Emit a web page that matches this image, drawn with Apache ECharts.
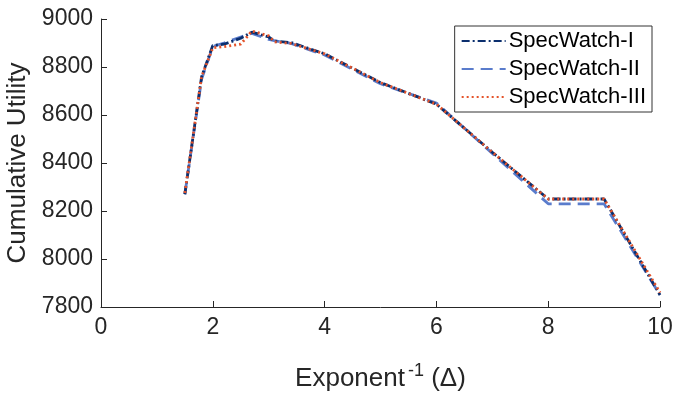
<!DOCTYPE html>
<html>
<head>
<meta charset="utf-8">
<script src="https://cdn.jsdelivr.net/npm/echarts@6/dist/echarts.min.js"></script>
<style>html,body{margin:0;padding:0;background:#fff}#c{width:673px;height:395px}</style>
</head>
<body>
<div id="c"></div>
<script>
const xValues = [1.5, 1.8, 2.0, 2.2, 2.5, 2.7, 3.0, 3.1, 3.4, 4, 5, 6, 7, 8, 9, 10];
const specWatchI   = [8270, 8760, 8890, 8895, 8920, 8945, 8925, 8908, 8902, 8855, 8735, 8645, 8445, 8250, 8250, 7850];
const specWatchII  = [8270, 8750, 8885, 8900, 8925, 8940, 8915, 8910, 8898, 8850, 8730, 8650, 8440, 8230, 8230, 7850];
const specWatchIII = [8275, 8760, 8880, 8885, 8895, 8950, 8930, 8905, 8898, 8855, 8735, 8645, 8445, 8250, 8250, 7860];
const seriesNames = ['SpecWatch-I', 'SpecWatch-II', 'SpecWatch-III'];
const yTicks = [7800, 8000, 8200, 8400, 8600, 8800, 9000];
const xTicks = [0, 2, 4, 6, 8, 10];

const pair = arr => xValues.map((x, i) => [x, arr[i]]);
const font = '"Liberation Sans", Arial, Helvetica, sans-serif';
const chart = echarts.init(document.getElementById('c'), null, {renderer: 'canvas'});
const axisColor = '#262626';
chart.setOption({
  animation: false,
  backgroundColor: '#fff',
  grid: {left: 101, right: 13, top: 19, bottom: 88, containLabel: false, outerBoundsMode: 'none'},
  legend: {
    orient: 'vertical', right: 21, top: 26,
    itemWidth: 44, itemHeight: 14, itemGap: 6,
    padding: [4, 6, 4, 6],
    borderColor: '#333', borderWidth: 1, backgroundColor: '#fff',
    itemStyle: {opacity: 0},
    textStyle: {fontFamily: font, fontSize: 22, color: '#000', padding: [0, 0, 0, -2]},
    data: seriesNames
  },
  xAxis: {
    type: 'value', min: xTicks[0], max: xTicks[xTicks.length - 1], interval: 2,
    axisLine: {show: true, lineStyle: {color: axisColor, width: 1}},
    axisTick: {show: true, inside: true, length: 6, lineStyle: {color: axisColor}},
    axisLabel: {fontFamily: font, fontSize: 23, color: axisColor, margin: 9},
    splitLine: {show: false},
    name: '{a|Exponent}{s|-1}{a| (Δ)}',
    nameLocation: 'middle', nameGap: 55,
    nameTextStyle: {
      rich: {
        a: {fontFamily: font, fontSize: 26, color: axisColor, verticalAlign: 'bottom', lineHeight: 30},
        s: {fontFamily: font, fontSize: 18, color: axisColor, verticalAlign: 'top', lineHeight: 30, padding: [0, 0, 14, 3]}
      }
    }
  },
  yAxis: {
    type: 'value', min: yTicks[0], max: yTicks[yTicks.length - 1], interval: 200,
    axisLine: {show: true, lineStyle: {color: axisColor, width: 1}},
    axisTick: {show: true, inside: true, length: 6, lineStyle: {color: axisColor}},
    axisLabel: {fontFamily: font, fontSize: 23, color: axisColor, margin: 8, formatter: v => String(v)},
    splitLine: {show: false},
    name: 'Cumulative Utility', nameLocation: 'middle', nameGap: 63,
    nameTextStyle: {fontFamily: font, fontSize: 26, color: axisColor}
  },
  series: [
    {name: seriesNames[0], type: 'line', data: pair(specWatchI), symbol: 'none', z: 3,
     lineStyle: {color: '#0b2f6e', width: 2.8, type: [8, 3, 2, 3]}, itemStyle: {color: '#0b2f6e'}},
    {name: seriesNames[1], type: 'line', data: pair(specWatchII), symbol: 'none', z: 2,
     lineStyle: {color: '#5a7ccc', width: 2.8, type: [12, 7]}, itemStyle: {color: '#5a7ccc'}},
    {name: seriesNames[2], type: 'line', data: pair(specWatchIII), symbol: 'none', z: 4,
     lineStyle: {color: '#e4532a', width: 2.8, type: [2, 3]}, itemStyle: {color: '#e4532a'}}
  ]
});
</script>
</body>
</html>
